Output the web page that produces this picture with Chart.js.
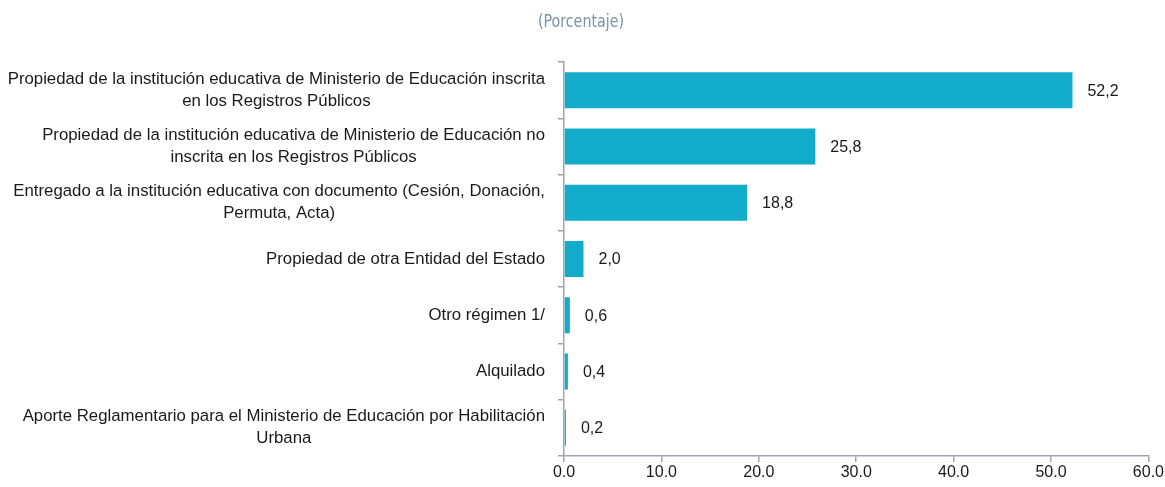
<!DOCTYPE html>
<html>
<head>
<meta charset="utf-8">
<script src="https://cdn.jsdelivr.net/npm/chart.js@4"></script>
<style>
  html, body { margin: 0; padding: 0; background: #fff; }
  #wrap { width: 1165px; height: 487px; }
</style>
</head>
<body>
<div id="wrap"><canvas id="myChart" width="1165" height="487"></canvas></div>
<script>
// categories (one array per label, split into lines like the original)
const categories = [
    ["Propiedad de la institución educativa de Ministerio de Educación inscrita", "en los Registros Públicos"],
    ["Propiedad de la institución educativa de Ministerio de Educación no", "inscrita en los Registros Públicos"],
    ["Entregado a la institución educativa con documento (Cesión, Donación,", "Permuta, Acta)"],
    ["Propiedad de otra Entidad del Estado"],
    ["Otro régimen 1/"],
    ["Alquilado"],
    ["Aporte Reglamentario para el Ministerio de Educación por Habilitación", "Urbana"]
];
const values = [52.2, 25.8, 18.8, 2.0, 0.6, 0.4, 0.2];
const xTicks = [0, 10, 20, 30, 40, 50, 60];
const subtitle = '(Porcentaje)';

const barColor = '#12abc9';
const axisColor = '#a3a3b3';
const textColor = '#1a1a1a';
const labelFont = '16.8px "Liberation Sans", Arial, sans-serif';
const valueFont = '16px "Liberation Sans", Arial, sans-serif';

// draws the subtitle and the category labels: block right-aligned, lines centered inside it
const categoryLabels = {
    id: 'categoryLabels',
    afterDraw(chart) {
        const ctx = chart.ctx;
        const yScale = chart.scales.y;
        const right = yScale.right - 19;
        ctx.save();
        ctx.textAlign = 'center';
        ctx.textBaseline = 'middle';
        // narrow look for the subtitle
        ctx.save();
        ctx.translate(581, 22);
        ctx.scale(0.88, 1);
        ctx.font = '18px "DejaVu Sans Condensed", "DejaVu Sans", sans-serif';
        ctx.fillStyle = '#7895a5';
        ctx.fillText(subtitle, 0, 0);
        ctx.restore();
        ctx.font = labelFont;
        ctx.fillStyle = textColor;
        categories.forEach((lines, i) => {
            const cy = yScale.getPixelForValue(i);
            let w = 0;
            lines.forEach((l) => { w = Math.max(w, ctx.measureText(l).width); });
            const cx = right - w / 2;
            lines.forEach((l, j) => {
                ctx.fillText(l, cx, cy + (j - (lines.length - 1) / 2) * 22);
            });
        });
        ctx.restore();
    }
};

// value labels to the right of each bar
const valueLabels = {
    id: 'valueLabels',
    afterDatasetsDraw(chart) {
        const ctx = chart.ctx;
        const meta = chart.getDatasetMeta(0);
        ctx.save();
        ctx.font = valueFont;
        ctx.fillStyle = textColor;
        ctx.textAlign = 'left';
        ctx.textBaseline = 'middle';
        meta.data.forEach((bar, i) => {
            ctx.fillText(values[i].toFixed(1).replace('.', ','), bar.x + 15, bar.y + 1);
        });
        ctx.restore();
    }
};

const ctx = document.getElementById('myChart');
new Chart(ctx, {
    type: 'bar',
    data: {
        labels: categories.map((c) => c.join(' ')),
        datasets: [{
            data: values,
            backgroundColor: barColor,
            barPercentage: 0.64,
            categoryPercentage: 1.0
        }]
    },
    options: {
        indexAxis: 'y',
        responsive: false,
        animation: false,
        layout: { padding: { top: 62, right: 15, bottom: 0, left: 0 } },
        plugins: {
            legend: { display: false },
            tooltip: { enabled: false }
        },
        scales: {
            x: {
                min: 0,
                max: 60,
                afterBuildTicks: (scale) => { scale.ticks = xTicks.map((v) => ({ value: v })); },
                afterFit: (scale) => { scale.height = 31; },
                border: { color: axisColor, width: 1.5 },
                grid: { drawOnChartArea: false, color: axisColor, tickLength: 6, lineWidth: 1.5 },
                ticks: {
                    padding: 1,
                    color: textColor,
                    font: { family: '"Liberation Sans", Arial, sans-serif', size: 16 },
                    callback: (v) => Number(v).toFixed(1)
                }
            },
            y: {
                afterFit: (scale) => { scale.width = 564; },
                border: { color: axisColor, width: 1.5 },
                grid: { offset: true, drawOnChartArea: false, color: axisColor, tickLength: 6, lineWidth: 1.5 },
                ticks: { display: false }
            }
        }
    },
    plugins: [categoryLabels, valueLabels]
});
</script>
</body>
</html>
